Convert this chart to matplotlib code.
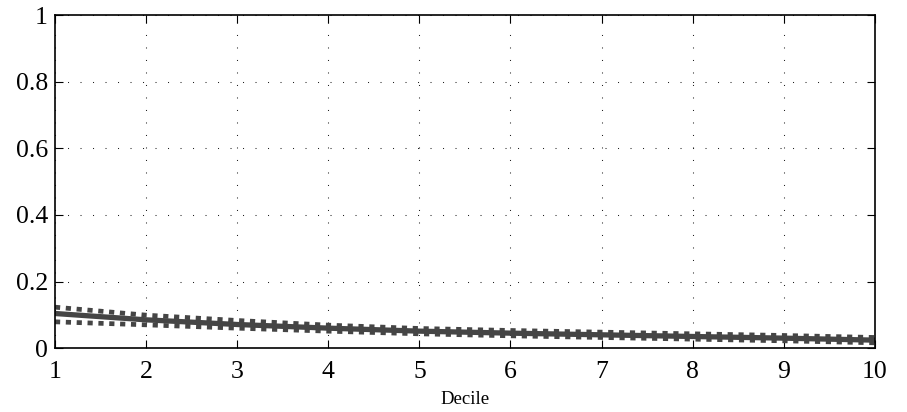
import matplotlib
matplotlib.use('Agg')
import matplotlib.pyplot as plt

deciles = [1, 2, 3, 4, 5, 6, 7, 8, 9, 10]
estimate = [0.104, 0.085, 0.071, 0.060, 0.051, 0.045, 0.040, 0.035, 0.030, 0.024]
upper = [0.123, 0.099, 0.083, 0.069, 0.059, 0.053, 0.048, 0.043, 0.038, 0.032]
lower = [0.079, 0.070, 0.060, 0.051, 0.043, 0.037, 0.032, 0.027, 0.022, 0.016]
yticks = [0, 0.2, 0.4, 0.6, 0.8, 1]
yticklabels = ['0', '0.2', '0.4', '0.6', '0.8', '1']

plt.rcParams['font.family'] = ['Liberation Serif', 'DejaVu Serif']

fig = plt.figure(figsize=(9.07, 4.12), dpi=100)
ax = fig.add_axes([0.0606, 0.155, 0.904, 0.8085])

col = '#454545'
# band first, estimate on top
ax.plot(deciles, upper, color=col, lw=3.4, ls=(0, (1.1, 1.2)), dash_capstyle='butt')
ax.plot(deciles, lower, color=col, lw=3.4, ls=(0, (1.1, 1.2)), dash_capstyle='butt')
ax.plot(deciles, estimate, color=col, lw=3.8, solid_capstyle='butt')

ax.set_xlim(1, 10)
ax.set_ylim(0, 1)
ax.set_xticks(deciles)
ax.set_yticks(yticks)
ax.set_yticklabels(yticklabels)
ax.grid(True, color='#222222', ls=(0, (1, 11)), lw=0.75)
ax.tick_params(direction='in', top=True, right=True, labelsize=18.5, length=6)
ax.tick_params(axis='x', pad=9)
ax.tick_params(axis='y', pad=5)
for s in ax.spines.values():
    s.set_linewidth(1.2)
ax.set_xlabel('Decile', fontsize=13.5, labelpad=6)

fig.savefig('out.png', dpi=100)
